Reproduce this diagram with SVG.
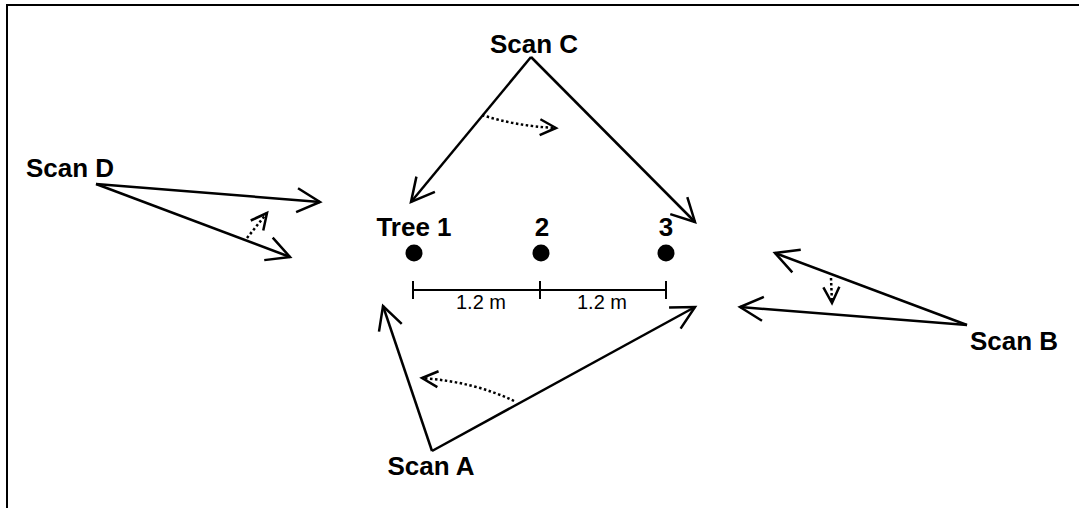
<svg xmlns="http://www.w3.org/2000/svg" width="1079" height="508" viewBox="0 0 1079 508">
<style>
.lbl{font-family:"Liberation Sans",Arial,sans-serif;font-weight:bold;font-size:26px;fill:#000;text-anchor:middle}
.sm{font-family:"Liberation Sans",Arial,sans-serif;font-size:20px;fill:#000;text-anchor:middle}
.ray{stroke:#000;stroke-width:2.5;fill:none;marker-end:url(#ah)}
.dot{stroke:#000;stroke-width:2.5;fill:none;stroke-dasharray:2.5 2.5;marker-end:url(#ahs)}
.bar{stroke:#000;stroke-width:2;fill:none}
</style>
<defs>
<marker id="ah" markerUnits="userSpaceOnUse" markerWidth="30" markerHeight="30" refX="0" refY="0" viewBox="-26 -15 30 30" orient="auto" overflow="visible">
<path d="M-23,-12 L0,0 L-23,12" fill="none" stroke="#000" stroke-width="2.5"/>
</marker>
<marker id="ahs" markerUnits="userSpaceOnUse" markerWidth="20" markerHeight="20" refX="0" refY="0" viewBox="-18 -10 20 20" orient="auto" overflow="visible">
<path d="M-16,-8 L0,0 L-16,8" fill="none" stroke="#000" stroke-width="2.5"/>
</marker>
</defs>
<rect x="0" y="0" width="1079" height="508" fill="#fff"/>
<path d="M7,508 L7,5 L1079,5" fill="none" stroke="#000" stroke-width="2"/>
<g id="connectors">
<line class="ray" x1="531" y1="57" x2="411" y2="202"/>
<line class="ray" x1="531" y1="57" x2="695" y2="222"/>
<path class="dot" d="M482,115 Q515,126 556,128"/>
<line class="ray" x1="96" y1="184" x2="320" y2="202"/>
<line class="ray" x1="96" y1="184" x2="290" y2="257"/>
<path class="dot" d="M247,238 L267,213"/>
<line class="ray" x1="432" y1="451" x2="383" y2="306"/>
<line class="ray" x1="432" y1="451" x2="695" y2="307"/>
<path class="dot" d="M514,401 Q475,382 422,378"/>
<line class="ray" x1="967" y1="325" x2="775" y2="253"/>
<line class="ray" x1="967" y1="325" x2="740" y2="307"/>
<path class="dot" d="M831,278 L832,303"/>
</g>
<g id="scale">
<line class="bar" x1="413" y1="290" x2="666" y2="290"/>
<line class="bar" x1="413" y1="281" x2="413" y2="299"/>
<line class="bar" x1="540" y1="281" x2="540" y2="299"/>
<line class="bar" x1="666" y1="281" x2="666" y2="299"/>
<text class="sm" x="481" y="309">1.2 m</text>
<text class="sm" x="602" y="309">1.2 m</text>
</g>
<g id="tree1"><circle cx="414" cy="253" r="8.5"/><text class="lbl" x="414" y="236">Tree 1</text></g>
<g id="tree2"><circle cx="541" cy="253" r="8.5"/><text class="lbl" x="542" y="236">2</text></g>
<g id="tree3"><circle cx="666" cy="253" r="8.5"/><text class="lbl" x="666" y="236">3</text></g>
<g id="scanC"><text class="lbl" x="534" y="53">Scan C</text></g>
<g id="scanD"><text class="lbl" x="70" y="177">Scan D</text></g>
<g id="scanA"><text class="lbl" x="431" y="475">Scan A</text></g>
<g id="scanB"><text class="lbl" x="1014" y="350">Scan B</text></g>
</svg>
